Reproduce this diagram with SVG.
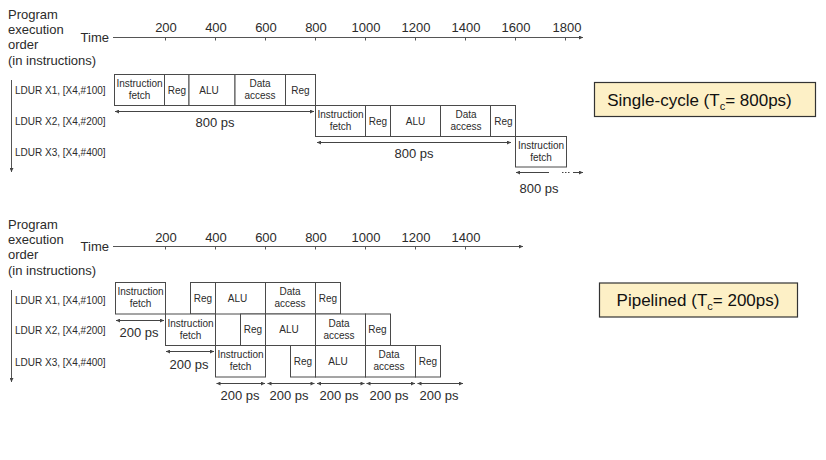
<svg xmlns="http://www.w3.org/2000/svg" width="826" height="460" viewBox="0 0 826 460">
<style>
  text { font-family: "Liberation Sans", Arial, Helvetica, sans-serif; fill: #2b2b2b; }
  .ax { font-size: 13px; }
  .lab { font-size: 10px; }
  .bt { font-size: 10px; text-anchor: middle; }
  .ps { font-size: 13px; text-anchor: middle; }
  .tick { font-size: 13px; text-anchor: middle; }
  .big { font-size: 17px; text-anchor: middle; fill: #111; }
  .box { fill: #ffffff; stroke: #4a4a4a; stroke-width: 1; }
  .axis { stroke: #555; stroke-width: 1; fill: none; }
  .arr { stroke: #444; stroke-width: 1; fill: none; }
  .note { fill: #fdf0c6; stroke: #333; stroke-width: 1.2; }
</style>
<defs>
  <marker id="ah" viewBox="0 0 10 10" refX="10" refY="5" markerWidth="6" markerHeight="4" orient="auto-start-reverse" markerUnits="userSpaceOnUse">
    <path d="M0,0 L10,5 L0,10 z" fill="#444"/>
  </marker>
</defs>

<rect width="826" height="460" fill="#ffffff"/>

<!-- ===== TOP: single-cycle ===== -->
<g id="top-axis">
  <text class="ax" x="8" y="18.5">Program</text>
  <text class="ax" x="8" y="33.8">execution</text>
  <text class="ax" x="8" y="49.2">order</text>
  <text class="ax" x="8" y="64.5">(in instructions)</text>
  <text class="ax" x="109" y="41.5" text-anchor="end">Time</text>
  <line class="axis" x1="113" y1="37.5" x2="583" y2="37.5" marker-end="url(#ah)"/>
  <path class="axis" d="M165.5,37.5v3 M215.5,37.5v3 M265.5,37.5v3 M315.5,37.5v3 M365.5,37.5v3 M415.5,37.5v3 M465.5,37.5v3 M515.5,37.5v3 M565.5,37.5v3"/>
  <text class="tick" x="166" y="31.5">200</text>
  <text class="tick" x="216" y="31.5">400</text>
  <text class="tick" x="266" y="31.5">600</text>
  <text class="tick" x="316" y="31.5">800</text>
  <text class="tick" x="366" y="31.5">1000</text>
  <text class="tick" x="416" y="31.5">1200</text>
  <text class="tick" x="466" y="31.5">1400</text>
  <text class="tick" x="516" y="31.5">1600</text>
  <text class="tick" x="567" y="31.5">1800</text>
  <line class="axis" x1="11.5" y1="80" x2="11.5" y2="172" marker-end="url(#ah)"/>
  <text class="lab" x="15" y="93.6">LDUR X1, [X4,#100]</text>
  <text class="lab" x="15" y="124.6">LDUR X2, [X4,#200]</text>
  <text class="lab" x="15" y="156.3">LDUR X3, [X4,#400]</text>
</g>

<g id="sc-x1">
  <rect class="box" x="114.5" y="74.5" width="50" height="31"/>
  <rect class="box" x="164.5" y="74.5" width="24.5" height="31"/>
  <rect class="box" x="189" y="74.5" width="46" height="31"/>
  <rect class="box" x="235" y="74.5" width="50.5" height="31"/>
  <rect class="box" x="285.5" y="74.5" width="30" height="31"/>
  <text class="bt" x="139.5" y="87">Instruction</text>
  <text class="bt" x="139.5" y="99.3">fetch</text>
  <text class="bt" x="177" y="93.6">Reg</text>
  <text class="bt" x="209" y="93.6">ALU</text>
  <text class="bt" x="260" y="87">Data</text>
  <text class="bt" x="260" y="99.3">access</text>
  <text class="bt" x="300.5" y="93.6">Reg</text>
</g>

<g id="sc-x2">
  <rect class="box" x="315.5" y="105.5" width="50" height="31"/>
  <rect class="box" x="365.5" y="105.5" width="25" height="31"/>
  <rect class="box" x="390.5" y="105.5" width="50" height="31"/>
  <rect class="box" x="440.5" y="105.5" width="50" height="31"/>
  <rect class="box" x="490.5" y="105.5" width="25" height="31"/>
  <text class="bt" x="340.5" y="118">Instruction</text>
  <text class="bt" x="340.5" y="130.3">fetch</text>
  <text class="bt" x="378" y="124.6">Reg</text>
  <text class="bt" x="415.5" y="124.6">ALU</text>
  <text class="bt" x="466" y="118">Data</text>
  <text class="bt" x="466" y="130.3">access</text>
  <text class="bt" x="503.5" y="124.6">Reg</text>
</g>

<g id="sc-x3">
  <rect class="box" x="515.5" y="136.5" width="51" height="30.5"/>
  <text class="bt" x="541" y="149">Instruction</text>
  <text class="bt" x="541" y="161.3">fetch</text>
</g>

<g id="sc-note">
  <rect class="note" x="594.5" y="82.5" width="221" height="34"/>
  <text class="big" x="699.5" y="106">Single-cycle (T<tspan font-size="11" dy="4">c</tspan><tspan dy="-4">= 800ps)</tspan></text>
</g>

<!-- ===== BOTTOM: pipelined ===== -->
<g id="bottom-axis">
  <text class="ax" x="8" y="228.5">Program</text>
  <text class="ax" x="8" y="243.8">execution</text>
  <text class="ax" x="8" y="259.2">order</text>
  <text class="ax" x="8" y="274.5">(in instructions)</text>
  <text class="ax" x="109" y="251" text-anchor="end">Time</text>
  <line class="axis" x1="113" y1="246.5" x2="523" y2="246.5" marker-end="url(#ah)"/>
  <path class="axis" d="M165.5,246.5v3 M215.5,246.5v3 M265.5,246.5v3 M315.5,246.5v3 M365.5,246.5v3 M415.5,246.5v3 M465.5,246.5v3"/>
  <text class="tick" x="166" y="241.5">200</text>
  <text class="tick" x="216" y="241.5">400</text>
  <text class="tick" x="266" y="241.5">600</text>
  <text class="tick" x="316" y="241.5">800</text>
  <text class="tick" x="366" y="241.5">1000</text>
  <text class="tick" x="416" y="241.5">1200</text>
  <text class="tick" x="466" y="241.5">1400</text>
  <line class="axis" x1="11.5" y1="290" x2="11.5" y2="382" marker-end="url(#ah)"/>
  <text class="lab" x="15" y="303.6">LDUR X1, [X4,#100]</text>
  <text class="lab" x="15" y="334.3">LDUR X2, [X4,#200]</text>
  <text class="lab" x="15" y="366.3">LDUR X3, [X4,#400]</text>
</g>

<g id="pl-x1">
  <rect class="box" x="115.5" y="282.5" width="50" height="31.5"/>
  <rect class="box" x="190.5" y="282.5" width="25" height="31.5"/>
  <rect class="box" x="215.5" y="282.5" width="50" height="31.5"/>
  <rect class="box" x="265.5" y="282.5" width="50" height="31.5"/>
  <rect class="box" x="315.5" y="282.5" width="25" height="31.5"/>
  <text class="bt" x="140.5" y="295">Instruction</text>
  <text class="bt" x="140.5" y="307.3">fetch</text>
  <text class="bt" x="203" y="301.8">Reg</text>
  <text class="bt" x="237.5" y="301.8">ALU</text>
  <text class="bt" x="290" y="295">Data</text>
  <text class="bt" x="290" y="307.3">access</text>
  <text class="bt" x="328" y="301.8">Reg</text>
</g>

<g id="pl-x2">
  <rect class="box" x="165.5" y="314" width="50" height="31.5"/>
  <rect class="box" x="240.5" y="314" width="25" height="31.5"/>
  <rect class="box" x="265.5" y="314" width="50" height="31.5"/>
  <rect class="box" x="315.5" y="314" width="50" height="31.5"/>
  <rect class="box" x="365.5" y="314" width="25" height="31.5"/>
  <text class="bt" x="190.5" y="326.5">Instruction</text>
  <text class="bt" x="190.5" y="338.8">fetch</text>
  <text class="bt" x="253" y="333.3">Reg</text>
  <text class="bt" x="289" y="333.3">ALU</text>
  <text class="bt" x="339" y="326.5">Data</text>
  <text class="bt" x="339" y="338.8">access</text>
  <text class="bt" x="377.5" y="333.3">Reg</text>
</g>

<g id="pl-x3">
  <rect class="box" x="215.5" y="345.5" width="50" height="31.5"/>
  <rect class="box" x="290.5" y="345.5" width="25" height="31.5"/>
  <rect class="box" x="315.5" y="345.5" width="50" height="31.5"/>
  <rect class="box" x="365.5" y="345.5" width="50" height="31.5"/>
  <rect class="box" x="415.5" y="345.5" width="25" height="31.5"/>
  <text class="bt" x="240.5" y="358">Instruction</text>
  <text class="bt" x="240.5" y="370.3">fetch</text>
  <text class="bt" x="303" y="364.8">Reg</text>
  <text class="bt" x="338" y="364.8">ALU</text>
  <text class="bt" x="389" y="358">Data</text>
  <text class="bt" x="389" y="370.3">access</text>
  <text class="bt" x="428" y="364.8">Reg</text>
</g>

<g id="pl-note">
  <rect class="note" x="599.5" y="283" width="198" height="34"/>
  <text class="big" x="698" y="306">Pipelined (T<tspan font-size="11" dy="4">c</tspan><tspan dy="-4">= 200ps)</tspan></text>
</g>

<!-- ===== connectors (timing arrows) ===== -->
<g id="connectors">
  <line class="arr" x1="115" y1="111.5" x2="314" y2="111.5" marker-start="url(#ah)" marker-end="url(#ah)"/>
  <line class="arr" x1="317" y1="142.5" x2="511" y2="142.5" marker-start="url(#ah)" marker-end="url(#ah)"/>
  <line class="arr" x1="516" y1="172.5" x2="549" y2="172.5" marker-start="url(#ah)"/>
  <line class="arr" x1="562" y1="172.5" x2="571" y2="172.5" stroke-dasharray="1.5,1.5" stroke-width="1.5"/>
  <line class="arr" x1="573" y1="172.5" x2="583" y2="172.5" marker-end="url(#ah)"/>

  <line class="arr" x1="116" y1="320.5" x2="164" y2="320.5" marker-start="url(#ah)" marker-end="url(#ah)"/>
  <line class="arr" x1="166" y1="351.5" x2="214" y2="351.5" marker-start="url(#ah)" marker-end="url(#ah)"/>
  <line class="arr" x1="216.5" y1="383.5" x2="265" y2="383.5" marker-start="url(#ah)" marker-end="url(#ah)"/>
  <line class="arr" x1="267.5" y1="383.5" x2="314.5" y2="383.5" marker-start="url(#ah)" marker-end="url(#ah)"/>
  <line class="arr" x1="317" y1="383.5" x2="364.5" y2="383.5" marker-start="url(#ah)" marker-end="url(#ah)"/>
  <line class="arr" x1="366.5" y1="383.5" x2="415" y2="383.5" marker-start="url(#ah)" marker-end="url(#ah)"/>
  <line class="arr" x1="417.5" y1="383.5" x2="463" y2="383.5" marker-start="url(#ah)" marker-end="url(#ah)"/>
</g>

<g id="timing-labels">
  <text class="ps" x="215" y="126.5">800 ps</text>
  <text class="ps" x="414" y="157.5">800 ps</text>
  <text class="ps" x="539" y="192.5">800 ps</text>
  <text class="ps" x="139" y="337.3">200 ps</text>
  <text class="ps" x="189" y="368.6">200 ps</text>
  <text class="ps" x="240" y="399.6">200 ps</text>
  <text class="ps" x="289" y="399.6">200 ps</text>
  <text class="ps" x="339" y="399.6">200 ps</text>
  <text class="ps" x="389" y="399.6">200 ps</text>
  <text class="ps" x="439" y="399.6">200 ps</text>
</g>
</svg>
